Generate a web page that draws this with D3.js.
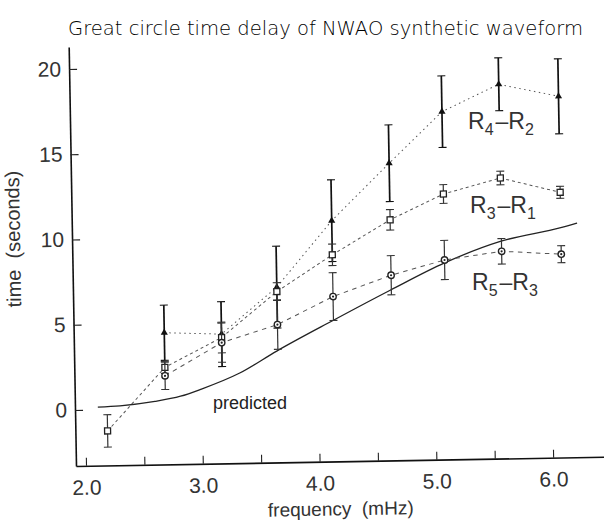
<!DOCTYPE html>
<html>
<head>
<meta charset="utf-8">
<script src="https://cdn.jsdelivr.net/npm/d3@7"></script>
<style>
  body { margin: 0; background: #fff; }
  svg { display: block; }
</style>
</head>
<body>
<svg id="chart" width="604" height="523"></svg>
<script>
// Measured group delays (seconds) against frequency (mHz)
const frequency = [2.19, 2.69, 3.18, 3.66, 4.14, 4.64, 5.10, 5.59, 6.10];

const r4r2    = [null, 4.44, 4.30, 7.00, 10.84, 14.15, 17.12, 18.67, 17.90];
const r4r2Err = [null, 1.62, 1.90, 2.40, 2.40, 2.25, 2.10, 1.55, 2.20];

const r3r1    = [-1.26, 2.41, 4.10, 6.74, 8.84, 10.83, 12.29, 13.17, 12.27];
const r3r1Err = [0.95, 0.35, 0.90, 0.52, 0.63, 0.60, 0.55, 0.40, 0.35];

const r5r3    = [null, 1.91, 3.80, 4.80, 6.39, 7.58, 8.42, 8.87, 8.64];
const r5r3Err = [null, 0.80, 1.15, 1.45, 1.40, 1.15, 1.15, 0.75, 0.50];

// Predicted great-circle delay
const predictedFreq = [2.11, 2.30, 2.60, 2.82, 3.00, 3.33, 3.65, 4.14, 4.63, 5.10, 5.58, 6.10, 6.24];
const predictedTime = [0.15, 0.20, 0.42, 0.70, 1.10, 2.00, 3.25, 5.00, 6.70, 8.25, 9.45, 10.20, 10.45];

const xTicks = [2.0, 2.5, 3.0, 3.5, 4.0, 4.5, 5.0, 5.5, 6.0];
const yTicks = [0, 5, 10, 15, 20];

const titleText = "Great circle time delay of NWAO synthetic waveform";
const xLabel = "frequency  (mHz)";
const yLabel = "time  (seconds)";

const svg = d3.select("#chart");

// plot frame (drawn slightly tilted, as on the plotter sheet)
const ox = 76, oy = 466;
const x = d3.scaleLinear().domain([2, 6]).range([86, 553.2]);
const y = d3.scaleLinear().domain([0, 20]).range([410, 69]);

svg.append("text")
  .attr("x", 68).attr("y", 35)
  .attr("textLength", 515).attr("lengthAdjust", "spacingAndGlyphs")
  .style("font-family", "DejaVu Sans, sans-serif")
  .style("font-weight", 200)
  .style("font-size", "20px")
  .style("fill", "#000")
  .text(titleText);

const plot = svg.append("g").attr("transform", `rotate(-1 ${ox} ${oy})`);

// axes
const xAxisScale = x.copy().domain([x.invert(ox), x.invert(610)]).range([ox, 610]);
const yAxisScale = y.copy().domain([y.invert(oy), y.invert(47)]).range([oy, 47]);

const xAxis = plot.append("g")
  .attr("transform", `translate(0,${oy})`)
  .call(d3.axisBottom(xAxisScale)
    .tickValues(xTicks)
    .tickSizeInner(-8).tickSizeOuter(0).tickPadding(14)
    .tickFormat(d => Number.isInteger(d) ? d.toFixed(1) : ""));

const yAxis = plot.append("g")
  .attr("transform", `translate(${ox},0)`)
  .call(d3.axisLeft(yAxisScale)
    .tickValues(yTicks)
    .tickSizeInner(-8).tickSizeOuter(0).tickPadding(8)
    .tickFormat(d3.format("d")));

[xAxis, yAxis].forEach(a => {
  a.select(".domain").attr("stroke", "#111").attr("stroke-width", 1.6);
  a.selectAll(".tick line").attr("stroke", "#222").attr("stroke-width", 1.1);
  a.selectAll(".tick text")
    .style("font-family", "Liberation Sans, Arial, sans-serif")
    .style("font-size", "21px")
    .style("fill", "#333");
});

plot.append("text")
  .attr("x", 340).attr("y", 520)
  .attr("text-anchor", "middle")
  .style("font-family", "Liberation Sans, Arial, sans-serif")
  .style("font-size", "19px")
  .style("fill", "#333")
  .style("white-space", "pre")
  .text(xLabel);

plot.append("text")
  .attr("transform", "translate(24,238) rotate(-90)")
  .attr("text-anchor", "middle")
  .style("font-family", "Liberation Sans, Arial, sans-serif")
  .style("font-size", "20px")
  .style("fill", "#333")
  .style("white-space", "pre")
  .text(yLabel);

// predicted curve
const predicted = predictedFreq.map((f, i) => [f, predictedTime[i]]);
plot.append("path")
  .datum(predicted)
  .attr("fill", "none")
  .attr("stroke", "#222")
  .attr("stroke-width", 1.3)
  .attr("d", d3.line().x(d => x(d[0])).y(d => y(d[1])).curve(d3.curveMonotoneX));

// measured series
const series = [
  { values: r4r2, errs: r4r2Err, dash: "1.5,3.5", barWidth: 1.7, barColor: "#111", marker: "triangle" },
  { values: r3r1, errs: r3r1Err, dash: "3,3",     barWidth: 1.2, barColor: "#333", marker: "square" },
  { values: r5r3, errs: r5r3Err, dash: "4.5,4.5", barWidth: 1.2, barColor: "#333", marker: "circle" }
];

series.forEach(s => {
  const pts = frequency.map((f, i) => ({ f, v: s.values[i], e: s.errs[i] }))
    .filter(d => d.v !== null);
  const g = plot.append("g");

  g.append("path")
    .datum(pts)
    .attr("fill", "none")
    .attr("stroke", "#555")
    .attr("stroke-width", 1)
    .attr("stroke-dasharray", s.dash)
    .attr("d", d3.line().x(d => x(d.f)).y(d => y(d.v)));

  const bars = g.selectAll("g.bar").data(pts).join("g").attr("class", "bar")
    .attr("stroke", s.barColor).attr("stroke-width", s.barWidth);
  bars.append("line")
    .attr("x1", d => x(d.f)).attr("x2", d => x(d.f))
    .attr("y1", d => y(d.v - d.e)).attr("y2", d => y(d.v + d.e));
  bars.append("line")
    .attr("x1", d => x(d.f) - 4).attr("x2", d => x(d.f) + 4)
    .attr("y1", d => y(d.v + d.e)).attr("y2", d => y(d.v + d.e))
    .attr("stroke-width", 1.1);
  bars.append("line")
    .attr("x1", d => x(d.f) - 4).attr("x2", d => x(d.f) + 4)
    .attr("y1", d => y(d.v - d.e)).attr("y2", d => y(d.v - d.e))
    .attr("stroke-width", 1.1);

  const m = g.selectAll("g.mark").data(pts).join("g").attr("class", "mark")
    .attr("transform", d => `translate(${x(d.f)},${y(d.v)})`);
  if (s.marker === "triangle") {
    m.append("path").attr("d", d3.symbol(d3.symbolTriangle, 22)).attr("fill", "#111");
  } else if (s.marker === "square") {
    m.append("rect").attr("x", -3).attr("y", -3).attr("width", 6).attr("height", 6)
      .attr("fill", "#fff").attr("stroke", "#222").attr("stroke-width", 1.3);
  } else {
    m.append("circle").attr("r", 3.2).attr("fill", "#fff").attr("stroke", "#222").attr("stroke-width", 1.4);
    m.append("circle").attr("r", 1.1).attr("fill", "#222");
  }
});

// series labels
const labelFont = "Liberation Sans, Arial, sans-serif";
function seriesLabel(px, py, a, b) {
  const t = svg.append("text")
    .attr("x", px).attr("y", py)
    .style("font-family", labelFont)
    .style("font-size", "23px")
    .style("fill", "#333");
  t.append("tspan").text("R");
  t.append("tspan").attr("dy", 6).style("font-size", "16px").text(a);
  t.append("tspan").attr("dy", -6).attr("dx", 2).text("\u2013R");
  t.append("tspan").attr("dy", 6).style("font-size", "16px").text(b);
}
seriesLabel(468, 129, "4", "2");
seriesLabel(470, 213, "3", "1");
seriesLabel(472, 290, "5", "3");

svg.append("text")
  .attr("x", 213).attr("y", 409)
  .style("font-family", labelFont)
  .style("font-size", "18px")
  .style("fill", "#222")
  .text("predicted");
</script>
</body>
</html>
